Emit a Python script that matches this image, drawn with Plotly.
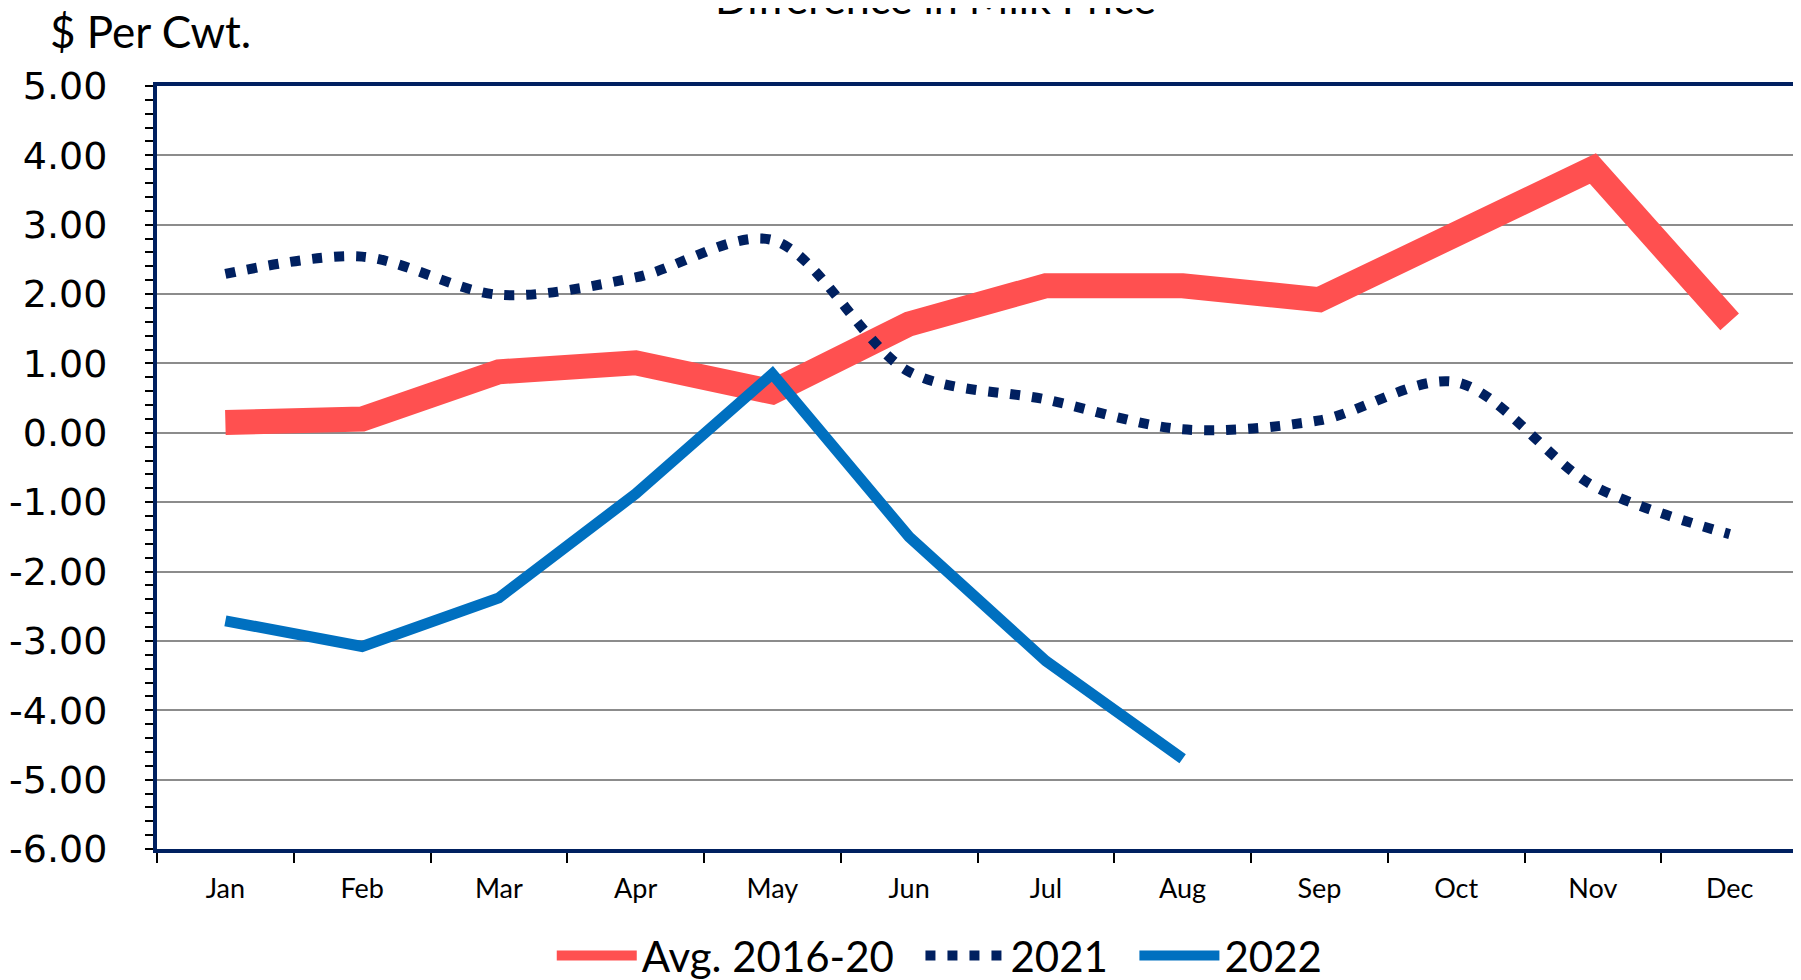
import plotly.graph_objects as go

months = ["Jan", "Feb", "Mar", "Apr", "May", "Jun", "Jul", "Aug", "Sep", "Oct", "Nov", "Dec"]
avg_2016_20 = [0.15, 0.20, 0.88, 1.01, 0.59, 1.57, 2.12, 2.12, 1.92, 2.85, 3.81, 1.60]
y2021 = [2.29, 2.54, 1.99, 2.24, 2.78, 0.88, 0.48, 0.05, 0.18, 0.73, -0.76, -1.46]
y2022 = [-2.71, -3.08, -2.38, -0.88, 0.85, -1.50, -3.29, -4.70]
y_ticks = [5, 4, 3, 2, 1, 0, -1, -2, -3, -4, -5, -6]
y_ticktext = ["5.00", "4.00", "3.00", "2.00", "1.00", "0.00",
              "-1.00", "-2.00", "-3.00", "-4.00", "-5.00", "-6.00"]

RED = "#FF5050"
NAVY = "#002060"
BLUE = "#0070C0"
FONT = "Lato"
NB = "\u00a0"

fig = go.Figure()
fig.add_trace(go.Scatter(
    x=months, y=avg_2016_20, name="Avg. 2016-20" + NB * 2, mode="lines",
    line=dict(color=RED, width=25),
))
fig.add_trace(go.Scatter(
    x=months, y=y2021, name="2021" + NB * 2, mode="lines",
    line=dict(color=NAVY, width=10, dash="10px,12px", shape="spline", smoothing=0.9),
))
fig.add_trace(go.Scatter(
    x=months[:len(y2022)], y=y2022, name="2022", mode="lines",
    line=dict(color=BLUE, width=11),
))

# page body adds an 8px offset, so the figure is 8px smaller than the window
fig.update_layout(
    width=1793, height=972,
    margin=dict(l=149, r=3, t=78, b=131, autoexpand=False),
    paper_bgcolor="white", plot_bgcolor="white",
    showlegend=True,
    legend=dict(
        orientation="h", x=0.477, xanchor="center", y=-0.14, yanchor="middle",
        font=dict(family=FONT, size=42, color="black"),
        itemwidth=80, bgcolor="rgba(0,0,0,0)",
        tracegroupgap=0,
    ),
    annotations=[
        dict(text="Difference in Milk Price", xref="paper", yref="paper",
             x=0.4747, y=1.080, xanchor="center", yanchor="bottom", showarrow=False,
             font=dict(family=FONT, size=43, color="black")),
        dict(text="$ Per Cwt.", xref="paper", yref="paper",
             x=-0.0663, y=1.0725, xanchor="left", yanchor="middle", showarrow=False,
             font=dict(family=FONT, size=44, color="black")),
    ],
)

fig.update_xaxes(
    type="category", categoryorder="array", categoryarray=months,
    range=[-0.5, 11.5], automargin=False,
    showline=True, linecolor=NAVY, linewidth=4, mirror=True,
    ticks="outside", tickson="boundaries", ticklen=10, tickwidth=2, tickcolor="black",
    showgrid=False,
    tickfont=dict(family=FONT, size=27, color="black"),
    ticklabelstandoff=13,
)
fig.update_yaxes(
    range=[-6, 5], tickvals=y_ticks, ticktext=y_ticktext, automargin=False,
    showline=True, linecolor=NAVY, linewidth=4, mirror=True,
    ticks="outside", ticklen=8, tickwidth=2, tickcolor="black",
    showgrid=True, gridcolor="#8C8C8C", gridwidth=2,
    zeroline=False,
    minor=dict(dtick=0.2, ticks="outside", ticklen=8, tickwidth=2, tickcolor="black", showgrid=False),
    tickfont=dict(family="DejaVu Sans", size=38, color="black"),
    ticklabelstandoff=30,
)

fig.write_html("out.html")
